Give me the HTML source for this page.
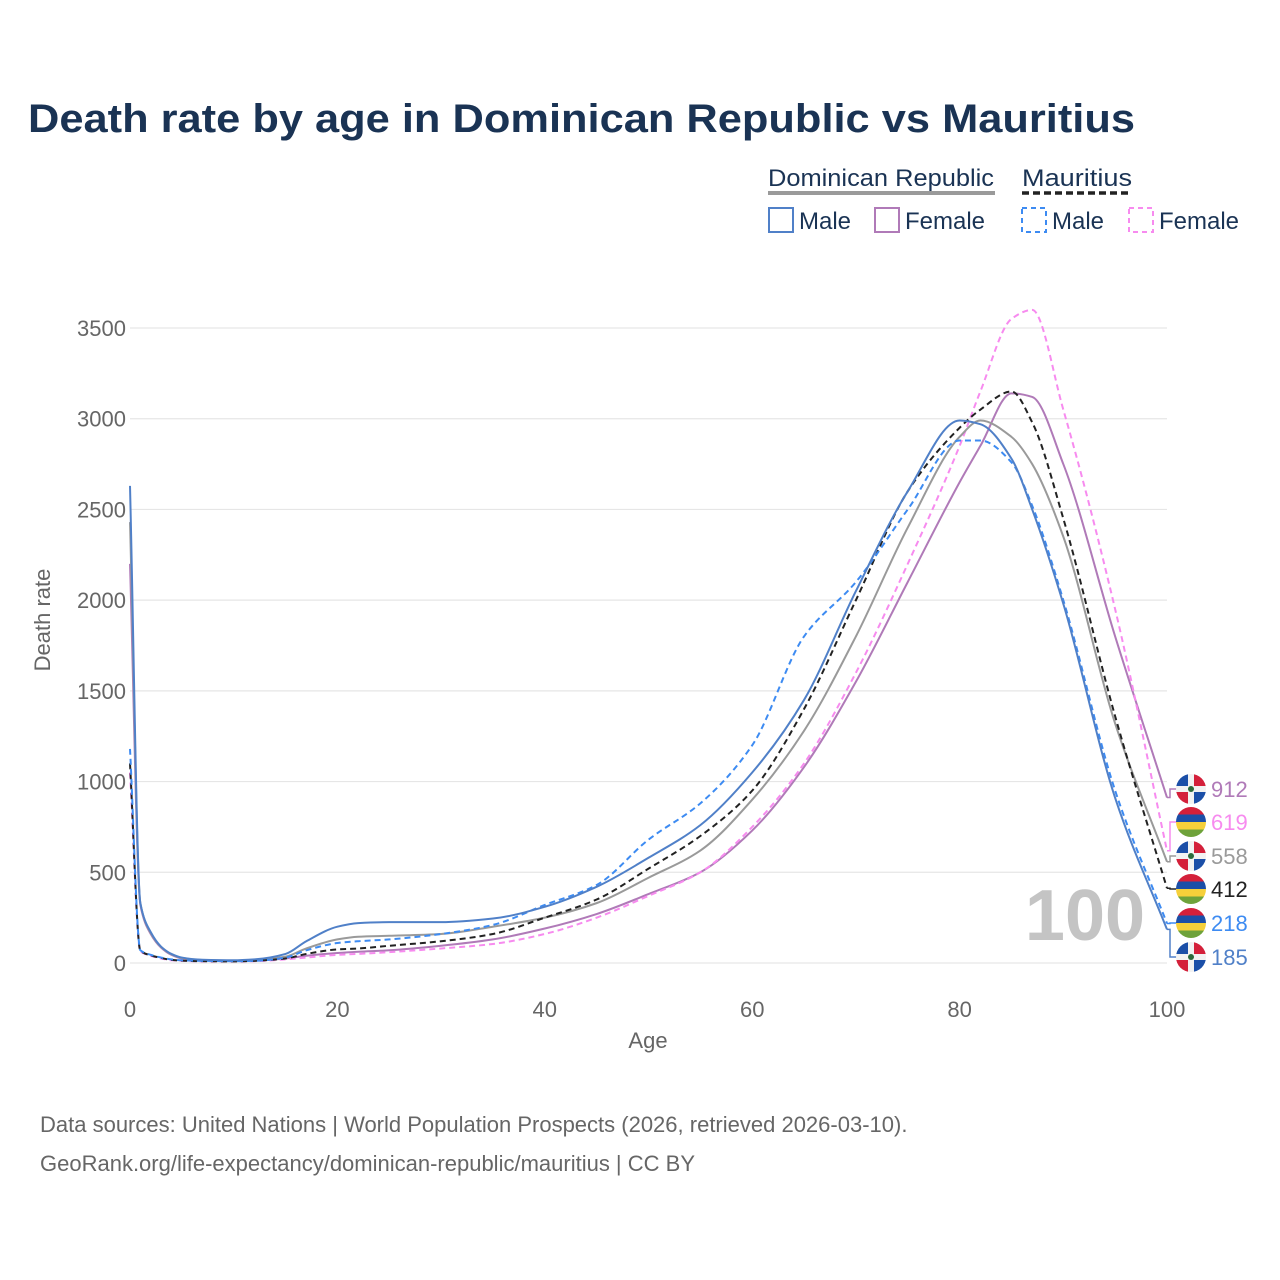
<!DOCTYPE html>
<html><head><meta charset="utf-8"><style>
body{margin:0;background:#fff;}
svg{display:block;font-family:"Liberation Sans",sans-serif;}
</style></head><body>
<svg id="chart" width="1280" height="1280" viewBox="0 0 1280 1280">
<text x="28" y="132" font-size="40" font-weight="bold" fill="#1a3354" textLength="1107" lengthAdjust="spacingAndGlyphs">Death rate by age in Dominican Republic vs Mauritius</text>
<g>
<text x="768" y="186" font-size="24" fill="#1a3354" textLength="226" lengthAdjust="spacingAndGlyphs">Dominican Republic</text>
<line x1="768" y1="193" x2="995" y2="193" stroke="#9a9a9a" stroke-width="4"/>
<text x="1022" y="186" font-size="24" fill="#1a3354" textLength="110" lengthAdjust="spacingAndGlyphs">Mauritius</text>
<line x1="1022" y1="193" x2="1132" y2="193" stroke="#222" stroke-width="3.5" stroke-dasharray="7,4"/>
<rect x="769" y="208" width="24" height="24" fill="none" stroke="#5080c8" stroke-width="2"/>
<text x="799" y="229" font-size="24" fill="#1a3354">Male</text>
<rect x="875" y="208" width="24" height="24" fill="none" stroke="#b07ab8" stroke-width="2"/>
<text x="905" y="229" font-size="24" fill="#1a3354">Female</text>
<rect x="1022" y="208" width="24" height="24" fill="none" stroke="#3d8bf2" stroke-width="2" stroke-dasharray="5,4"/>
<text x="1052" y="229" font-size="24" fill="#1a3354">Male</text>
<rect x="1129" y="208" width="24" height="24" fill="none" stroke="#f78bef" stroke-width="2" stroke-dasharray="5,4"/>
<text x="1159" y="229" font-size="24" fill="#1a3354">Female</text>
</g>
<g id="grid"></g>
<g id="axes"></g>
<text x="1085" y="940" font-size="72" font-weight="bold" fill="#c4c4c4" text-anchor="middle">100</text>
<g id="lines"></g>
<g id="labels"></g>
<text x="648" y="1048" font-size="22" fill="#666" text-anchor="middle">Age</text>
<text x="50" y="620" font-size="22" fill="#666" text-anchor="middle" transform="rotate(-90 50 620)">Death rate</text>
<text x="40" y="1132" font-size="22" fill="#666">Data sources: United Nations | World Population Prospects (2026, retrieved 2026-03-10).</text>
<text x="40" y="1171" font-size="22" fill="#666">GeoRank.org/life-expectancy/dominican-republic/mauritius | CC BY</text>
</svg>
<script>
const ages=[0,1,2,3,4,5,7,10,12,15,17,20,22,25,30,35,40,45,50,55,60,65,70,75,80,82,85,87,90,95,100];
const drMale=[2630,330,170,90,50,30,18,15,20,50,120,200,220,225,225,245,310,420,580,760,1050,1450,2050,2600,2990,2970,2780,2500,1980,910,185];
const drFemale=[2200,320,160,85,45,25,15,12,14,25,40,55,62,70,95,130,190,270,380,500,730,1080,1550,2100,2650,2850,3140,3120,2750,1800,912];
const drTotal=[2430,330,165,88,48,28,16,13,17,35,80,130,145,150,160,200,250,330,470,620,900,1280,1800,2400,2900,2990,2900,2750,2350,1320,558];
const muMale=[1180,70,45,30,20,15,12,10,12,30,70,110,120,130,160,210,320,430,680,880,1200,1800,2100,2500,2880,2880,2760,2520,2000,950,218];
const muFemale=[1050,65,40,25,15,12,9,8,10,20,30,45,50,60,80,105,160,250,370,500,750,1100,1600,2200,2850,3150,3550,3600,3050,1950,619];
const muTotal=[1100,68,42,28,17,13,10,9,12,25,50,75,80,95,120,160,250,350,520,700,950,1400,2000,2600,2950,3050,3150,2980,2450,1360,412];
const yTicks=[0,500,1000,1500,2000,2500,3000,3500];
const xTicks=[0,20,40,60,80,100];
const NS='http://www.w3.org/2000/svg';
const X=a=>130+a*(1167-130)/100;
const Y=v=>963-v*(635/3500);
function mk(tag,attrs,parent){const e=document.createElementNS(NS,tag);for(const k in attrs)e.setAttribute(k,attrs[k]);parent.appendChild(e);return e;}
const grid=document.getElementById('grid'),axes=document.getElementById('axes');
yTicks.forEach(t=>{
 const l=mk('line',{x1:130,x2:1167,y1:Y(t),y2:Y(t),stroke:'#e6e6e6','stroke-width':1.2},grid);
 
 
 const tx=mk('text',{x:126,y:Y(t)+8,'font-size':22,fill:'#666','text-anchor':'end'},axes);
 tx.textContent=t;
 
 
});
xTicks.forEach(t=>{
 const tx=mk('text',{x:X(t),y:1017,'font-size':22,fill:'#666','text-anchor':'middle'},axes);
 tx.textContent=t;
 
 
});
function monoPath(xs,ys){
 const n=xs.length,d=[],m=new Array(n);
 for(let i=0;i<n-1;i++)d.push((ys[i+1]-ys[i])/(xs[i+1]-xs[i]));
 m[0]=d[0];m[n-1]=d[n-2];
 for(let i=1;i<n-1;i++){ if(d[i-1]*d[i]<=0)m[i]=0; else {const h0=xs[i]-xs[i-1],h1=xs[i+1]-xs[i];m[i]=3*(h0+h1)/((2*h1+h0)/d[i-1]+(h1+2*h0)/d[i]);} }
 let p='M'+xs[0]+','+ys[0];
 for(let i=0;i<n-1;i++){const h=(xs[i+1]-xs[i])/3;p+=' C'+(xs[i]+h)+','+(ys[i]+m[i]*h)+' '+(xs[i+1]-h)+','+(ys[i+1]-m[i+1]*h)+' '+xs[i+1]+','+ys[i+1];}
 return p;
}
const series=[
 {name:'dr-female',vals:drFemale,color:'#b07ab8',dash:null,flag:'dr',ly:789},
 {name:'mu-female',vals:muFemale,color:'#f78bef',dash:'6,4',flag:'mu',ly:822},
 {name:'dr-total',vals:drTotal,color:'#9a9a9a',dash:null,flag:'dr',ly:856},
 {name:'mu-total',vals:muTotal,color:'#222',dash:'6,4',flag:'mu',ly:889},
 {name:'mu-male',vals:muMale,color:'#3d8bf2',dash:'6,4',flag:'mu',ly:923},
 {name:'dr-male',vals:drMale,color:'#5080c8',dash:null,flag:'dr',ly:957}
];
const lines=document.getElementById('lines'),labels=document.getElementById('labels');
series.forEach(s=>{
 const xs=ages.map(X),ys=s.vals.map(Y);
 const p=mk('path',{d:monoPath(xs,ys),fill:'none',stroke:s.color,'stroke-width':2},lines);
 if(s.dash)p.setAttribute('stroke-dasharray',s.dash);
 
 
 const ey=Y(s.vals[s.vals.length-1]);
 const c=mk('path',{d:'M1167,'+ey+' L1170,'+ey+' L1170,'+s.ly+' L1178,'+s.ly,fill:'none',stroke:s.color,'stroke-width':1.5},labels);
 
 
 const g=mk('g',{},labels);
 
 
 const cx=1191,cy=s.ly,r=15;
 const cid='clip-'+s.name;
 const cp=mk('clipPath',{id:cid},g);mk('circle',{cx:cx,cy:cy,r:r},cp);
 const fg=mk('g',{'clip-path':'url(#'+cid+')'},g);
 if(s.flag==='dr'){
  mk('rect',{x:cx-r,y:cy-r,width:2*r,height:2*r,fill:'#f2f2f2'},fg);
  mk('rect',{x:cx-r,y:cy-r,width:r-3,height:r-3,fill:'#1b4fa8'},fg);
  mk('rect',{x:cx+3,y:cy-r,width:r-3,height:r-3,fill:'#d4203a'},fg);
  mk('rect',{x:cx-r,y:cy+3,width:r-3,height:r-3,fill:'#d4203a'},fg);
  mk('rect',{x:cx+3,y:cy+3,width:r-3,height:r-3,fill:'#1b4fa8'},fg);
  mk('circle',{cx:cx,cy:cy,r:3,fill:'#2a6a3a'},fg);
 } else {
  const cols=['#d4203a','#1b4fa8','#f6d03a','#6ea23a'];
  cols.forEach((col,i)=>mk('rect',{x:cx-r,y:cy-r+i*7.5,width:2*r,height:7.6,fill:col},fg));
 }
 const t=mk('text',{x:1211,y:s.ly+8,'font-size':22,fill:s.color},labels);
 t.textContent=s.vals[s.vals.length-1];
 
 
});
</script>
</body></html>
